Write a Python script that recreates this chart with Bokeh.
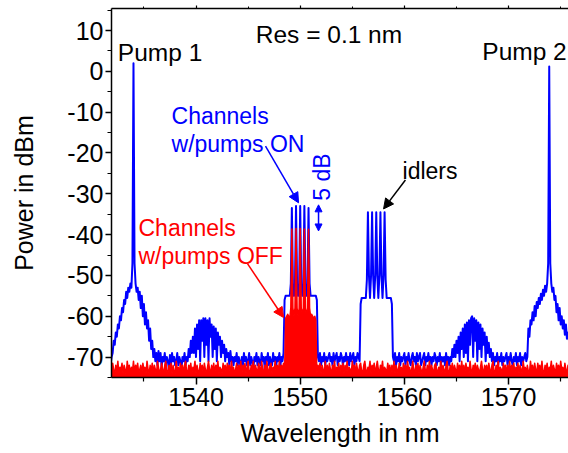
import numpy as np
from bokeh.plotting import figure
from bokeh.models import Label, Arrow, NormalHead, LinearAxis, Range1d, FixedTicker
from bokeh.embed import file_html
from bokeh.resources import INLINE

# ---- data: spectrum samples on a 0.1 nm grid starting at 1531.8 nm ----
WL_START = 1531.8
WL_STEP = 0.1

# Channels with pumps ON (blue), dBm
blue_on = [
    -72, -70, -69, -66, -67, -64, -65, -62, -63, -60,
    -61, -58, -59, -56, -57, -54, -55.5, -53, -54, -52,
    -53, -47, 2, -47, -52, -54, -53, -56, -54, -58,
    -55, -60, -57, -62, -59, -63, -61, -66, -63, -68,
    -66, -70, -68, -71, -69, -72, -68.5, -71, -69, -72.5,
    -70, -71, -69, -72, -70, -71, -73, -69.5, -72, -69,
    -71, -70, -72, -71, -69, -72, -70, -71, -73, -70,
    -71, -69, -72, -70, -71, -68, -70, -66, -69, -65,
    -69, -63, -70, -62, -68, -61, -71, -61, -66, -60.5,
    -70, -60.5, -67, -61, -71, -60.5, -65, -62, -70, -62.5,
    -68, -63, -71, -64, -67, -65, -70, -66, -69, -67,
    -71, -68, -70, -69, -72, -68.5, -71, -70, -72, -70,
    -71, -69, -72, -70, -71, -73, -70, -72, -69, -71,
    -70, -72, -71, -69, -72, -70, -71, -73, -70, -71,
    -69, -72, -70, -71, -72, -69, -71, -70, -73, -70,
    -71, -69, -72, -70, -71, -72, -69, -71, -70, -72,
    -70, -71, -69, -72, -70, -71, -69, -56, -55, -55,
    -55, -55, -55, -52, -33.5, -52, -55, -52, -33, -52,
    -55, -52, -33, -52, -55, -52, -33, -52, -55, -52,
    -33.5, -52, -55, -55, -55, -55, -55, -55, -56, -70,
    -71, -69, -72, -70, -71, -69, -72, -70, -71, -70,
    -69, -71, -70, -72, -69, -71, -70, -69, -72, -70,
    -71, -69, -70, -72, -70, -71, -69, -71, -70, -72,
    -69, -71, -70, -69, -72, -70, -71, -69, -70, -71,
    -57, -55.5, -55.5, -55.5, -55.5, -55.5, -51, -34.5, -50, -55.5,
    -50, -34.5, -50, -55.5, -50, -34.5, -50, -55.5, -50, -34.5,
    -50, -55.5, -50, -34.5, -51, -55.5, -55.5, -55.5, -55.5, -55.5,
    -57, -70, -71, -69, -72, -70, -71, -69, -72, -70,
    -71, -70, -69, -72, -70, -71, -69, -71, -72, -70,
    -69, -71, -70, -72, -69, -71, -70, -69, -72, -71,
    -70, -69, -72, -70, -71, -69, -71, -70, -72, -70,
    -71, -69, -70, -72, -70, -71, -69, -72, -70, -71,
    -70, -72, -69, -71, -70, -72, -70, -71, -68, -70,
    -67, -70, -66, -69, -65, -71, -64, -68, -63, -70,
    -62, -69, -61.5, -71, -61, -67, -60.5, -60, -70, -60.5,
    -66, -61, -71, -61.5, -68, -62, -70, -63, -67, -64,
    -71, -65, -69, -66.5, -70, -68, -71, -69, -72, -70,
    -71, -69, -72, -70, -71, -69, -72, -70, -71, -70,
    -69, -72, -70, -71, -69, -71, -72, -70, -71, -69,
    -72, -70, -71, -69, -72, -70, -71, -70, -69, -71,
    -70, -63, -65, -61, -62, -59, -61, -57.5, -60, -56.5,
    -58, -55.5, -57, -54.5, -56, -53.5, -55, -52.5, -54, -52,
    -47, 1.2, -47, -52, -54, -53, -56, -55, -59, -57,
    -61, -58, -62, -60, -63, -61, -64.5, -62, -65.5, -64,
    -66,
]

# Channels with pumps OFF (red), dBm
red_off = [
    -72, -74, -71.5, -73, -74.5, -72, -73.5, -71, -74, -72.5,
    -73, -71.5, -74, -72, -73, -74.5, -71, -73, -72, -74,
    -72.5, -73.5, -71, -74, -72, -73, -71.5, -74, -73, -72,
    -74, -71.5, -73, -72.5, -74, -71, -73, -74, -72, -73.5,
    -71.5, -74, -72, -73, -74.5, -71, -72.5, -74, -73, -71.5,
    -73, -74, -72, -71, -73.5, -74, -72, -73, -71.5, -74,
    -72, -73.5, -74, -71, -73, -72.5, -74, -71.5, -73, -72,
    -74, -72, -71, -73.5, -74, -72, -73, -71.5, -74, -72.5,
    -73, -71, -74, -72, -73.5, -74, -71.5, -73, -72, -74,
    -71.5, -73, -74, -72.5, -71, -73, -74, -72, -73.5, -71.5,
    -74, -72, -73, -71, -74, -72.5, -73, -74, -71.5, -73,
    -72, -74, -71.5, -73, -72, -74.5, -71, -73, -72.5, -74,
    -73, -71.5, -74, -72, -73.5, -71, -74, -72, -73, -71.5,
    -74, -72.5, -71, -73.5, -74, -72, -73, -71, -74, -72,
    -73, -74, -71.5, -72.5, -74, -71, -73, -74, -72, -73.5,
    -71, -73, -74, -72, -71.5, -74, -72.5, -73, -71, -74,
    -72, -73.5, -71, -74, -72, -73, -71.5, -74, -60.5, -60,
    -59.5, -60, -60.5, -58, -38.6, -58, -60, -58, -38.5, -58,
    -60, -58, -38.5, -58, -59.5, -58, -38.6, -58, -60, -58,
    -38.7, -58, -60, -59.5, -60, -60.5, -60, -61, -74, -72,
    -73, -71.5, -74, -72, -73, -74.5, -71, -73.5, -72, -74,
    -71.5, -73, -74, -72, -73, -71, -74, -72.5, -73, -71.5,
    -74, -72, -73, -71.5, -74, -72, -73.5, -71, -74, -72.5,
    -73, -74, -71, -73, -72, -74, -71.5, -73, -74, -72,
    -71.5, -73.5, -74, -72, -71, -73, -74, -72.5, -73, -71,
    -74, -72, -73, -71.5, -74, -72.5, -71, -73, -74, -72,
    -73, -71, -74, -72.5, -73, -74, -71.5, -73, -72, -74,
    -72, -73.5, -71, -74, -72, -73, -74, -71.5, -73, -72.5,
    -74, -71.5, -73, -72, -74, -71, -73, -72.5, -74, -73,
    -71, -73, -74, -72, -73.5, -71.5, -74, -72, -73, -74,
    -72.5, -71, -73, -74, -72, -73.5, -71, -74, -72, -73,
    -74, -72, -71.5, -73, -74, -72.5, -73, -71, -74, -72,
    -73, -74, -72, -71, -73.5, -74, -72, -73, -71.5, -74,
    -72, -73, -74, -71.5, -73, -72, -74, -71, -73.5, -72,
    -74, -71.5, -73, -72.5, -74, -71, -73, -74, -72, -73,
    -71.5, -74, -72, -73, -74, -72.5, -71, -73, -74, -72,
    -73, -72, -74, -71.5, -73, -74, -72, -71, -73.5, -74,
    -72, -73, -71, -74, -72.5, -73, -74, -71.5, -73, -72,
    -74, -72, -73.5, -71, -74, -72, -73, -71.5, -74, -72.5,
    -73, -71.5, -74, -72, -73, -74, -71, -73, -72.5, -74,
    -72, -73.5, -74, -71, -73, -72, -74, -71.5, -73, -74,
    -71.5, -73, -72, -74, -71, -73.5, -74, -72, -73, -71.5,
    -74, -72.5, -73, -71, -74, -72, -73, -74, -71.5, -73,
    -72, -74, -71, -73, -72.5, -74, -71.5, -73, -74, -72,
    -73,
]

x_major = [1540, 1550, 1560, 1570]
x_minor = [1535, 1545, 1555, 1565, 1575]
y_major = [10, 0, -10, -20, -30, -40, -50, -60, -70]
y_tick_labels = ["10", "0", "-10", "-20", "-30", "-40", "-50", "-60", "-70"]
y_minor = [15, 5, -5, -15, -25, -35, -45, -55, -65, -75]

wl = np.round(WL_START + WL_STEP * np.arange(len(blue_on)), 2)

FONT = "Liberation Sans"
BLUE = "#0000ff"
RED = "#ff0000"

p = figure(width=568, height=453, output_backend="svg", toolbar_location=None,
           x_range=Range1d(1531.89, 1575.75), y_range=Range1d(-75, 15.4),
           min_border_left=111, min_border_right=0, min_border_top=8,
           min_border_bottom=76)
p.outline_line_color = None
p.xgrid.visible = False
p.ygrid.visible = False
p.background_fill_color = "white"
p.border_fill_color = "white"

p.line(wl, blue_on, line_color=BLUE, line_width=2, line_join="round")
p.varea(x=wl, y1=np.full(len(red_off), -80.0), y2=red_off, fill_color=RED)
p.line(wl, red_off, line_color=RED, line_width=1.5, line_join="round")

def style_axis(ax, ticker):
    ax.ticker = ticker
    ax.axis_line_width = 1.5
    ax.major_tick_line_width = 1.5
    ax.minor_tick_line_width = 1.2
    ax.major_tick_in = 0
    ax.major_tick_out = 7
    ax.minor_tick_in = 0
    ax.minor_tick_out = 4
    ax.major_label_text_font = FONT
    ax.major_label_text_font_size = "25px"
    ax.major_label_text_color = "black"
    ax.axis_label_text_font = FONT
    ax.axis_label_text_font_size = "25px"
    ax.axis_label_text_font_style = "normal"
    ax.axis_label_text_color = "black"

xt = FixedTicker(ticks=x_major, minor_ticks=x_minor)
yt = FixedTicker(ticks=y_major, minor_ticks=y_minor)
style_axis(p.xaxis[0], xt)
style_axis(p.yaxis[0], yt)
p.yaxis[0].major_label_overrides = {v: s for v, s in zip(y_major, y_tick_labels)}
p.xaxis[0].axis_label = "Wavelength in nm"
p.yaxis[0].axis_label = "Power in dBm"
p.xaxis[0].major_label_standoff = 3
p.xaxis[0].axis_label_standoff = 10
p.yaxis[0].major_tick_out = 6
p.yaxis[0].major_label_standoff = 2
p.yaxis[0].axis_label_standoff = 26

top = LinearAxis(ticker=xt, major_label_overrides={v: "" for v in x_major},
                 major_label_text_font_size="10px", major_label_standoff=0,
                 axis_line_width=1.5, major_tick_in=0, major_tick_out=3,
                 minor_tick_in=0, minor_tick_out=2, major_tick_line_width=1.2,
                 minor_tick_line_width=1.0)
p.add_layout(top, "above")

def add_label(text, x, y, color="black", align="left", angle=0.0,
              baseline="alphabetic", size="23px"):
    p.add_layout(Label(x=x, y=y, text=text, text_font=FONT, text_font_size=size,
                       text_color=color, text_align=align, text_baseline=baseline,
                       angle=angle))

add_label("Pump 1", 1536.55, 4.7, align="center", size="24.5px")
add_label("Pump 2", 1571.53, 4.9, align="center", size="24.5px")
add_label("Res = 0.1 nm", 1552.76, 9.0, align="center", size="24.5px")
add_label("Channels", 1537.65, -11.0, color=BLUE)
add_label("w/pumps ON", 1537.65, -17.8, color=BLUE)
add_label("Channels", 1534.48, -38.3, color=RED)
add_label("w/pumps OFF", 1534.48, -45.2, color=RED)
add_label("idlers", 1559.82, -24.4)
add_label("5 dB", 1552.09, -25.9, color=BLUE, align="center", angle=np.pi / 2,
          baseline="middle")

def add_arrow(x0, y0, x1, y1, color, both=False, size=10):
    kw = dict(end=NormalHead(size=size, fill_color=color, line_color=color, line_width=1))
    if both:
        kw["start"] = NormalHead(size=size, fill_color=color, line_color=color, line_width=1)
    p.add_layout(Arrow(x_start=x0, y_start=y0, x_end=x1, y_end=y1, line_color=color,
                       line_width=1.5, **kw))

add_arrow(1546.67, -18.3, 1549.84, -32.2, BLUE)
add_arrow(1551.76, -32.7, 1551.76, -39.1, BLUE, both=True, size=7)
add_arrow(1560.1, -26.6, 1558.0, -33.7, "black")
add_arrow(1544.94, -47.1, 1548.4, -60.3, RED)

open("out.html", "w").write(file_html(p, INLINE))
